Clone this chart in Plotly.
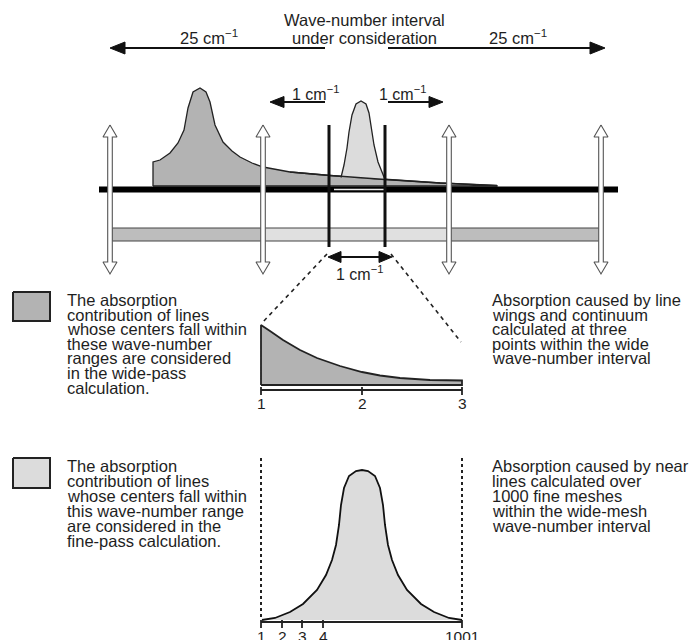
import plotly.graph_objects as go

W, H = 691, 640
FONT = "Liberation Sans, Arial, Helvetica, sans-serif"

# ---------------- texts ----------------
title_lines = ["Wave-number interval", "under consideration"]
wide_span_label = "25 cm<sup>−1</sup>"
fine_span_label = "1 cm<sup>−1</sup>"
legend_wide = ["The absorption", "contribution of lines", "whose centers fall within",
               "these wave-number", "ranges are considered", "in the wide-pass", "calculation."]
legend_fine = ["The absorption", "contribution of lines", "whose centers fall within",
               "this wave-number range", "are considered in the", "fine-pass calculation."]
note_wide = ["Absorption caused by line", "wings and continuum", "calculated at three",
             "points within the wide", "wave-number interval"]
note_fine = ["Absorption caused by near", "lines calculated over", "1000 fine meshes",
             "within the wide-mesh", "wave-number interval"]
wide_tick_labels = ["1", "2", "3"]
fine_tick_labels = ["1", "2", "3", "4", "1001"]

# ---------------- schematic profiles ----------------
far_line_x = [153, 153, 160, 170, 178, 184, 188, 193, 200, 206, 210, 215, 223, 232, 240, 252, 263, 290, 330, 385, 440, 497]
far_line_y = [186, 162, 160, 153, 143, 130, 108, 92, 88, 92, 102, 125, 142, 151, 157, 163, 167, 172, 175.5, 179.5, 183, 185.5]

near_line_x = [341, 344, 347, 349, 352, 356, 361, 366, 369, 371, 374, 378, 382, 385]
near_line_y = [177.5, 165, 148, 132, 115, 104, 101, 104, 113, 125, 145, 162, 173, 179.5]

wide_profile_x = [261, 270, 283, 300, 317, 340, 362, 380, 400, 430, 462]
wide_profile_y = [325, 331, 340, 350, 358, 366, 372, 375.5, 378, 380, 380.5]

fine_profile_x = [262, 275, 290, 303, 317, 326, 332, 336, 339, 341, 344, 349, 356, 362,
                  368, 375, 380, 383, 385, 388, 392, 398, 407, 421, 434, 449, 462]
fine_profile_y = [620, 618, 612, 604, 590, 575, 560, 545, 525, 505, 488, 476, 471, 470,
                  471, 476, 488, 505, 525, 545, 560, 575, 590, 604, 612, 618, 620]

wide_tick_x = [261, 362, 462]
fine_tick_x = [261, 282, 302, 323, 462]

DARK = "#b3b3b3"
LIGHT = "#dcdcdc"
INK = "#1e1e1e"

fig = go.Figure()


def poly(xs, ys, fill, line="#222", lw=1.3):
    fig.add_trace(go.Scatter(x=xs, y=ys, mode="lines", fill="toself", fillcolor=fill,
                             line=dict(color=line, width=lw), hoverinfo="skip", showlegend=False))


def seg(xs, ys, color="#111", lw=2, dash=None):
    fig.add_trace(go.Scatter(x=xs, y=ys, mode="lines",
                             line=dict(color=color, width=lw, dash=dash),
                             hoverinfo="skip", showlegend=False))


def head(tipx, tipy, direction, length=13, half=5.5):
    if direction == "left":
        xs = [tipx, tipx + length, tipx + length, tipx]
    else:
        xs = [tipx, tipx - length, tipx - length, tipx]
    ys = [tipy, tipy - half, tipy + half, tipy]
    poly(xs, ys, "#111", "#111", 1)


def open_double_arrow(x, y0, y1, hw=7, sw=2.3, hl=12):
    xs = [x, x + hw, x + sw, x + sw, x + hw, x, x - hw, x - sw, x - sw, x - hw, x]
    ys = [y0, y0 + hl, y0 + hl, y1 - hl, y1 - hl, y1, y1 - hl, y1 - hl, y0 + hl, y0 + hl, y0]
    poly(xs, ys, "white", "#555", 1.1)


# ---- top arrows ----
seg([325, 120], [48, 48], lw=2.2)
head(110, 48, "left", 15, 6)
seg([388, 595], [48, 48], lw=2.2)
head(605, 48, "right", 15, 6)

seg([325, 280], [102, 102], lw=2)
head(270, 102, "left", 14, 5.5)
seg([388, 433], [102, 102], lw=2)
head(443, 102, "right", 14, 5.5)

# ---- far-line (wide pass) peak ----
poly(far_line_x + [497, 153], far_line_y + [186, 186], DARK, "#222", 1.3)

# ---- near-line (fine pass) peak ----
poly(near_line_x, near_line_y, LIGHT, "#222", 1.3)
seg(far_line_x[-5:], far_line_y[-5:], "#222", 1.3)

# ---- thick black baseline ----
seg([99, 618], [189.5, 189.5], "#000", 6)
seg([334, 384], [189.5, 189.5], "#eeeeee", 1.6)

# ---- grey band ----
poly([112, 263, 263, 112, 112], [228, 228, 241, 241, 228], "#bdbdbd", "#444", 1)
poly([263, 449, 449, 263, 263], [228, 228, 241, 241, 228], "#e0e0e0", "#444", 1)
poly([449, 601, 601, 449, 449], [228, 228, 241, 241, 228], "#bdbdbd", "#444", 1)

# ---- vertical fine-interval bounds ----
seg([329, 329], [125, 247], "#111", 3)
seg([385, 385], [125, 247], "#111", 3)

# ---- open double arrows ----
for xv in [110, 263, 449, 601]:
    open_double_arrow(xv, 125, 274)

# ---- bottom 1 cm-1 arrow ----
seg([340, 380], [257, 257], lw=2)
head(328, 257, "left", 13, 5.5)
head(392, 257, "right", 13, 5.5)

# ---- zoom dashed lines ----
seg([327, 262], [254, 323], "#222", 1.6, "4px,4px")
seg([391, 461], [254, 342], "#222", 1.6, "4px,4px")

# ---- legend boxes ----
poly([13, 50, 50, 13, 13], [292, 292, 321, 321, 292], DARK, "#222", 2)
poly([13, 50, 50, 13, 13], [458, 458, 488, 488, 458], LIGHT, "#222", 2)

# ---- wide-pass profile ----
poly([261] + wide_profile_x + [462, 261], [385] + wide_profile_y + [385, 385], DARK, "#222", 1.8)
seg([261, 462], [390, 390], "#222", 1.8)
for tx in wide_tick_x:
    seg([tx, tx], [387, 395], "#222", 1.8)

# ---- fine-pass profile ----
seg([261, 261], [458, 619], "#222", 2, "3px,3px")
seg([462, 462], [458, 619], "#222", 2, "3px,3px")
poly(fine_profile_x, fine_profile_y, LIGHT, "#111", 1.8)
seg([261, 462], [622, 622], "#222", 1.8)
for tx in fine_tick_x:
    seg([tx, tx], [620, 628], "#222", 1.8)

# ---------------- annotations ----------------
ann = []


def txt(x, y, s, size=16.5, xanchor="left"):
    ann.append(dict(x=x, y=y, text=s, showarrow=False, xanchor=xanchor, yanchor="middle",
                    font=dict(family=FONT, size=size, color=INK)))


txt(364, 20, title_lines[0], 16.5, "center")
txt(364, 38, title_lines[1], 16.5, "center")
txt(209, 37, wide_span_label, 16.5, "center")
txt(518, 37, wide_span_label, 16.5, "center")
txt(315, 93, fine_span_label, 16, "center")
txt(402, 93, fine_span_label, 16, "center")
txt(359, 273, fine_span_label, 16, "center")

for i, s in enumerate(legend_wide):
    txt(65, 300 + 14.6 * i, s)
for i, s in enumerate(note_wide):
    txt(490, 300 + 14.6 * i, s)
for i, s in enumerate(legend_fine):
    txt(65, 466 + 14.9 * i, s)
for i, s in enumerate(note_fine):
    txt(490, 466 + 14.9 * i, s)

for tx, s in zip(wide_tick_x, wide_tick_labels):
    txt(tx, 403, s, 15.5, "center")
for tx, s in zip(fine_tick_x, fine_tick_labels):
    txt(tx, 636, s, 15.5, "center")

fig.update_layout(
    width=W, height=H,
    margin=dict(l=0, r=0, t=0, b=0),
    paper_bgcolor="white", plot_bgcolor="white",
    xaxis=dict(range=[0, W], visible=False, fixedrange=True),
    yaxis=dict(range=[H, 0], visible=False, fixedrange=True),
    annotations=ann,
    showlegend=False,
)

fig.write_html("out.html", config={"displayModeBar": False},
               post_script="document.body.style.margin='0';document.body.style.overflow='hidden';")
